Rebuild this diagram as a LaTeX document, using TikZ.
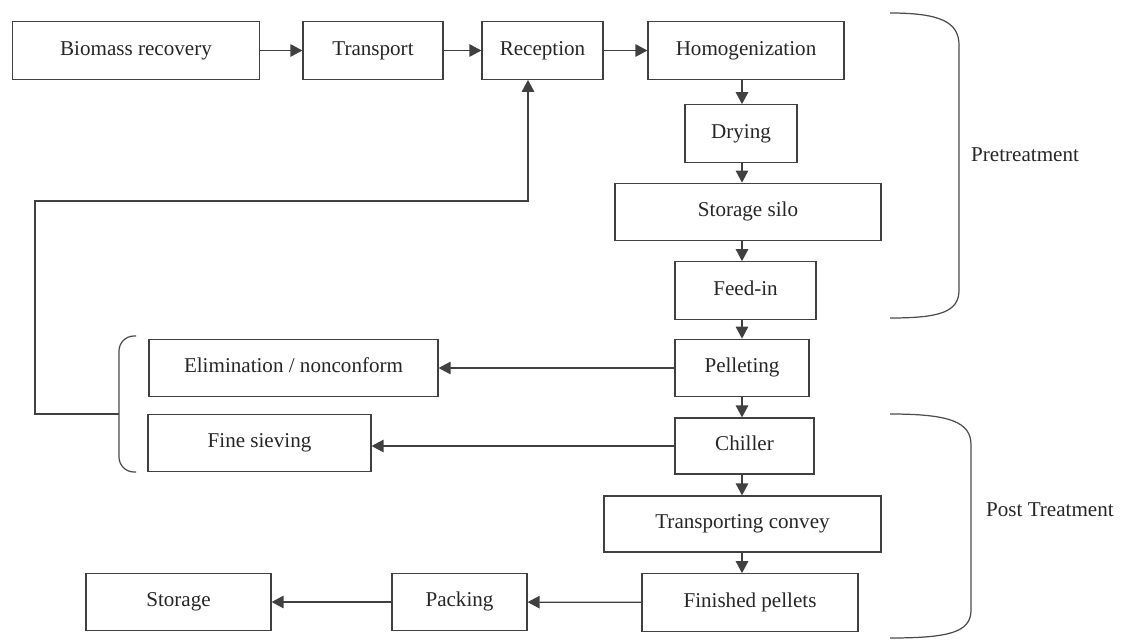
\documentclass[tikz,border=0pt]{standalone}
\usepackage{fontspec}
\setmainfont{Liberation Serif}
\usetikzlibrary{arrows.meta,positioning}

\begin{document}
\begin{tikzpicture}[x=0.02cm,y=-0.02cm,
        box/.style={draw=black!75, line width=0.7pt, rectangle, minimum height=1.15cm,
                text height=8.5pt, text depth=3pt, text=black!85, font=\fontsize{12}{14}\selectfont},
        arr/.style={draw=black!75, line width=0.7pt, -{Triangle[length=0.24cm,width=0.25cm]}},
        brace/.style={draw=black!70, line width=0.7pt},
        lab/.style={anchor=west, text=black!85, font=\fontsize{12}{14}\selectfont}]
        \useasboundingbox (0,0) rectangle (1128,639);
        \node[box, minimum width=4.95cm] (Bio) at (136,50.5) {Biomass recovery};
        \node[box, minimum width=2.8cm] (Tra) at (373,50.5) {Transport};
        \node[box, minimum width=2.42cm] (Rec) at (542.5,50.5) {Reception};
        \node[box, minimum width=3.92cm] (Hom) at (746,50.5) {Homogenization};
        \node[box, minimum width=2.24cm] (Dry) at (741,133.5) {Drying};
        \node[box, minimum width=5.32cm] (Sil) at (748,212) {Storage silo};
        \node[box, minimum width=2.82cm] (Fee) at (745.5,290.5) {Feed-in};
        \node[box, minimum width=2.68cm] (Pel) at (742,368) {Pelleting};
        \node[box, minimum width=2.78cm, minimum height=1.12cm] (Chi) at (744.5,446) {Chiller};
        \node[box, minimum width=5.54cm, minimum height=1.12cm] (Con) at (742.5,524) {Transporting convey};
        \node[box, minimum width=4.32cm] (Fin) at (750,602.5) {Finished pellets};
        \node[box, minimum width=2.7cm] (Pac) at (459.5,602) {Packing};
        \node[box, minimum width=3.7cm] (Sto) at (178.5,602) {Storage};
        \node[box, minimum width=5.78cm] (Eli) at (293.5,368) {Elimination / nonconform};
        \node[box, minimum width=4.46cm] (Sie) at (259.5,443) {Fine sieving};
        \coordinate (Col) at (742,0);
        \coordinate (Fx) at (528,0);
        \coordinate (Lb) at (119,414);
        \draw[arr] (Bio) -- (Tra);
        \draw[arr] (Tra) -- (Rec);
        \draw[arr] (Rec) -- (Hom);
        \draw[arr] (Hom.south -| Col) -- (Dry.north -| Col);
        \draw[arr] (Dry.south -| Col) -- (Sil.north -| Col);
        \draw[arr] (Sil.south -| Col) -- (Fee.north -| Col);
        \draw[arr] (Fee.south -| Col) -- (Pel.north -| Col);
        \draw[arr] (Pel.south -| Col) -- (Chi.north -| Col);
        \draw[arr] (Chi.south -| Col) -- (Con.north -| Col);
        \draw[arr] (Con.south -| Col) -- (Fin.north -| Col);
        \draw[arr] (Pel.west) -- (Pel.west -| Eli.east);
        \draw[arr] (Chi.west) -- (Chi.west -| Sie.east);
        \draw[arr] (Fin) -- (Pac);
        \draw[arr] (Pac) -- (Sto);
        \draw[arr] (Lb) -- (35,414) -- (35,201) -| (Rec.south -| Fx);
        \draw[brace, rounded corners=0.3cm] (136,336) -| (Lb) |- (136,472);
        \draw[brace] (890,13) .. controls (940,13) and (959,22) .. (959,45) -- (959,290)
                .. controls (959,312) and (940,318) .. (890,318);
        \draw[brace] (890,414) .. controls (950,414) and (971,422) .. (971,445) -- (971,610)
                .. controls (971,632) and (950,638) .. (890,638);
        \node[lab] (Pre) at (965,155) {Pretreatment};
        \node[lab] (Post) at (980,510) {Post Treatment};
\end{tikzpicture}
\end{document}
